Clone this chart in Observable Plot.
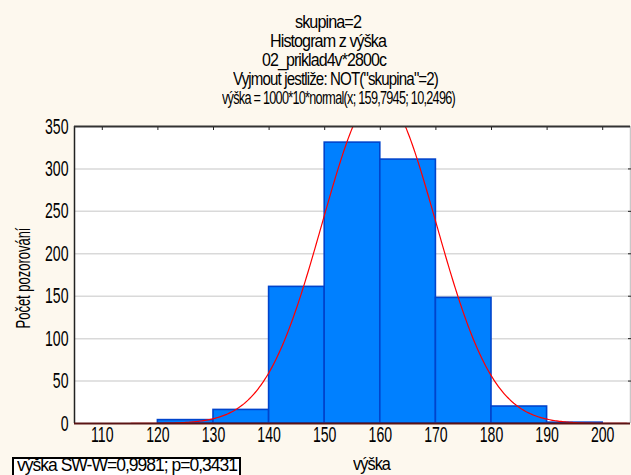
<!DOCTYPE html>
<html>
<head>
<meta charset="utf-8">
<script src="https://cdn.jsdelivr.net/npm/d3@7"></script>
<script src="https://cdn.jsdelivr.net/npm/@observablehq/plot@0.6"></script>
<style>
  html, body { margin: 0; padding: 0; background: #FDF8EE; }
  #wrap { position: relative; width: 631px; height: 475px; overflow: hidden; background: #FDF8EE;
          font-family: "Liberation Sans", Arial, sans-serif; color: #000; }
  .t { position: absolute; font-size: 17.5px; letter-spacing: -1px; line-height: 17px; white-space: nowrap; transform-origin: 0 0; }
  #foot { position: absolute; left: 12px; top: 457px; width: 229px; height: 24px; border: 2px solid #000; box-sizing: border-box; background: #fff; }
</style>
</head>
<body>
<div id="wrap"></div>
<script>
// ---- data ----
const binStarts = [120, 130, 140, 150, 160, 170, 180, 190];
const binWidth = 10;
const counts = [4, 16, 161, 331, 311, 148, 20, 1];
const xTicks = [110, 120, 130, 140, 150, 160, 170, 180, 190, 200];
const yTicks = [0, 50, 100, 150, 200, 250, 300, 350];
const gridValues = [50, 100, 150, 200, 250, 300];
const xDomain = [105, 205];
const yDomain = [0, 350];
// fitted normal from subtitle: 1000*10*normal(x; 159,7945; 10,2496)
const fitN = 1000, fitW = 10, fitMean = 159.7945, fitSd = 10.2496;
const titles = [
  "skupina=2",
  "Histogram z výška",
  "02_priklad4v*2800c",
  "Vyjmout jestliže: NOT(\"skupina\"=2)",
  "výška = 1000*10*normal(x; 159,7945; 10,2496)"
];
const xLabel = "výška";
const yLabel = "Počet pozorování";
const footText = "výška  SW-W=0,9981; p=0,3431";

const bars = binStarts.map((s, i) => ({x1: s, x2: s + binWidth, y: counts[i]}));
const curve = d3.range(xDomain[0], xDomain[1] + 0.001, 0.25).map(x => ({
  x, y: fitN * fitW * Math.exp(-0.5 * ((x - fitMean) / fitSd) ** 2) / (fitSd * Math.sqrt(2 * Math.PI))
}));

const chart = Plot.plot({
  width: 631,
  height: 475,
  marginLeft: 74,
  marginRight: 1,
  marginTop: 126,
  marginBottom: 52,
  style: {background: "transparent", fontFamily: "Liberation Sans, Arial, sans-serif", fontSize: "22px", color: "#000"},
  x: {domain: xDomain},
  y: {domain: yDomain},
  marks: [
    Plot.frame({fill: "#fff", stroke: "none"}),
    Plot.ruleY(gridValues, {stroke: "#d9d9d9", strokeWidth: 1.5}),
    Plot.rectY(bars, {x1: "x1", x2: "x2", y: "y", fill: "#0080FF", stroke: "#0044CC", strokeWidth: 1.6}),
    Plot.line(curve, {x: "x", y: "y", stroke: "#FF0000", strokeWidth: 1.2, clip: true}),
    Plot.ruleX([xDomain[0]], {stroke: "#222", strokeWidth: 1.5}),
    Plot.ruleX([xDomain[1]], {stroke: "#c8c8c8", strokeWidth: 1.5}),
    Plot.ruleY([yDomain[1]], {stroke: "#333", strokeWidth: 2}),
    Plot.ruleY([0], {stroke: "#5a1414", strokeWidth: 2}),
    Plot.axisX({anchor: "top", ticks: xTicks, tickSize: -3, tickFormat: () => "", label: null, stroke: "#222"}),
    Plot.axisY({anchor: "right", ticks: gridValues, tickSize: -3, tickFormat: () => "", label: null, stroke: "#222"}),
    Plot.axisX({anchor: "bottom", ticks: xTicks, tickSize: 0, tickPadding: 3, label: null, fontSize: 22, tickFormat: d => String(d)}),
    Plot.axisY({anchor: "left", ticks: yTicks, tickSize: 0, tickPadding: 6, label: null, fontSize: 22, tickFormat: d => String(d)}),
    Plot.text([yLabel], {frameAnchor: "left", dx: -51, dy: 3, rotate: -90, textAnchor: "middle", fontSize: 20, text: d => d})
  ]
});

const wrap = document.getElementById("wrap");
chart.style.position = "absolute";
chart.style.left = "0px";
chart.style.top = "0px";
wrap.appendChild(chart);

// condense SVG texts horizontally (the reference uses a very narrow face)
function condense(el, k) {
  const tr = el.getAttribute("transform") || "";
  const xa = el.getAttribute("x");
  let pre = "";
  if (xa != null && isFinite(+xa) && +xa !== 0) { pre = ` translate(${+xa},0)`; el.setAttribute("x", 0); }
  el.setAttribute("transform", `${tr}${pre} scale(${k},1)`);
}
chart.querySelectorAll('g[aria-label="x-axis tick label"] text, g[aria-label="y-axis tick label"] text')
  .forEach(el => condense(el, 0.64));
chart.querySelectorAll('text').forEach(el => {
  if (el.textContent === yLabel) {
    const len = el.getComputedTextLength();
    if (len > 0) condense(el, 101 / len);
  }
});

const f = document.createElement("div");
f.id = "foot"; wrap.appendChild(f);

// place a text: (centre or left x, top y, target width)
function place(text, x, top, targetW, align) {
  const d = document.createElement("div");
  d.className = "t";
  d.textContent = text;
  wrap.appendChild(d);
  const w = d.getBoundingClientRect().width;
  const k = targetW / w;
  d.style.top = top + "px";
  d.style.left = (align === "left" ? x : x - targetW / 2) + "px";
  d.style.transform = `scaleX(${k})`;
}
const titleLayout = [
  [328, 14, 66], [328, 33, 116], [324, 52, 124], [335, 71, 205], [338, 90, 233]
];
titles.forEach((t, i) => place(t, titleLayout[i][0], titleLayout[i][1], titleLayout[i][2]));
place(xLabel, 371, 456, 37);
place(footText, 17, 457, 220, "left");
</script>
</body>
</html>
